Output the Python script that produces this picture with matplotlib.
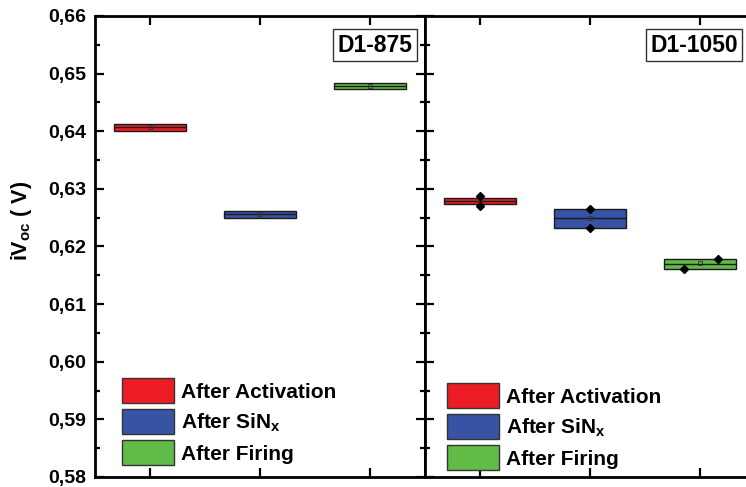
import matplotlib.pyplot as plt
import matplotlib.ticker as mticker
from matplotlib.patches import Patch

plt.rcParams['font.family'] = ['Liberation Sans', 'DejaVu Sans']
plt.rcParams['font.weight'] = 'bold'
plt.rcParams['mathtext.fontset'] = 'custom'
plt.rcParams['mathtext.rm'] = 'Liberation Sans:bold'
plt.rcParams['mathtext.bf'] = 'Liberation Sans:bold'
plt.rcParams['mathtext.it'] = 'Liberation Sans:bold'

# Data (iVoc in V), box = 25..75 %, line = median
steps = ["After Activation", r"After SiN$_\mathbf{x}$", "After Firing"]
colors = ["#ec1c24", "#3953a4", "#62bb46"]

# D1-875
q1_875 = [0.6401, 0.6250, 0.6473]
q3_875 = [0.6412, 0.6262, 0.6484]
med_875 = [0.6407, 0.6256, 0.6479]
mean_875 = [0.6407, 0.6256, 0.6479]

# D1-1050
q1_1050 = [0.6273, 0.6232, 0.6161]
q3_1050 = [0.6285, 0.6265, 0.6179]
med_1050 = [0.6279, 0.6249, 0.6169]
mean_1050 = [0.6280, 0.6249, 0.6172]
min_1050 = [0.6271, 0.6232, 0.6161]
max_1050 = [0.6287, 0.6265, 0.6179]

fig = plt.figure(figsize=(7.46, 4.87), dpi=100)
ax1 = fig.add_axes([95/746, 1 - 477/487, 330/746, 461/487])
ax2 = fig.add_axes([425/746, 1 - 477/487, 330/746, 461/487], sharey=ax1)

x = [1, 2, 3]
w = 0.65


def draw_boxes(ax, q1, q3, med, mean):
    for i in range(3):
        ax.bar(x[i], q3[i] - q1[i], bottom=q1[i], width=w, color=colors[i],
               edgecolor="#1a1a1a", linewidth=1.0, zorder=2)
        ax.hlines(med[i], x[i] - w/2, x[i] + w/2, color="#1a1a1a", lw=1.0, zorder=3)
        ax.plot(x[i], mean[i], marker="s", ms=3.5, mfc="none", mec="#333333",
                mew=0.6, zorder=4)


draw_boxes(ax1, q1_875, q3_875, med_875, mean_875)
draw_boxes(ax2, q1_1050, q3_1050, med_1050, mean_1050)

# min / max markers (small horizontal shift only on the last box)
dx_min = [0, 0, -0.15]
dx_max = [0, 0, 0.16]
for i in range(3):
    ax2.plot(x[i] + dx_min[i], min_1050[i], marker="D", ms=4.5, color="black", zorder=5)
    ax2.plot(x[i] + dx_max[i], max_1050[i], marker="D", ms=4.5, color="black", zorder=5)

for ax in (ax1, ax2):
    ax.set_xlim(0.5, 3.5)
    ax.set_xticks(x)
    ax.set_xticklabels([])
    for s in ax.spines.values():
        s.set_linewidth(2)
    ax.yaxis.set_minor_locator(mticker.MultipleLocator(0.005))
    ax.tick_params(which="both", direction="in", top=True, bottom=True,
                   left=True, right=True, width=1.6)
    ax.tick_params(which="major", length=6.5)
    ax.tick_params(which="minor", length=3.5)
    ax.tick_params(axis="x", which="minor", length=0)

ax1.set_ylim(0.58, 0.66)
ax1.set_yticks([0.58, 0.59, 0.60, 0.61, 0.62, 0.63, 0.64, 0.65, 0.66])
ax1.yaxis.set_major_formatter(mticker.FuncFormatter(lambda v, p: f"{v:.2f}".replace(".", ",")))
ax1.tick_params(axis="y", labelsize=14, pad=6.5)
ax2.tick_params(axis="y", labelleft=False)

fig.text(22/746, 1 - 221/487, r"iV$_\mathbf{oc}$ ( V)", rotation=90,
         ha="center", va="center", fontsize=15.5, fontweight="bold")

box = dict(boxstyle="square,pad=0.2", fc="white", ec="#333333", lw=1)
ax1.text(0.961, 0.962, "D1-875", transform=ax1.transAxes, ha="right", va="top",
         fontsize=16.5, fontweight="bold", bbox=box)
ax2.text(0.948, 0.962, "D1-1050", transform=ax2.transAxes, ha="right", va="top",
         fontsize=16.5, fontweight="bold", bbox=box)

handles = [Patch(facecolor=c, edgecolor="#333333", linewidth=1) for c in colors]
for ax, xa, ya in ((ax1, 0.081, 0.026), (ax2, 0.067, 0.015)):
    ax.legend(handles, steps, loc="lower left", bbox_to_anchor=(xa, ya),
              frameon=False, borderpad=0, borderaxespad=0, fontsize=15,
              handlelength=2.5, handleheight=1.45, handletextpad=0.35,
              labelspacing=0.3)

fig.savefig("out.png", dpi=100)
